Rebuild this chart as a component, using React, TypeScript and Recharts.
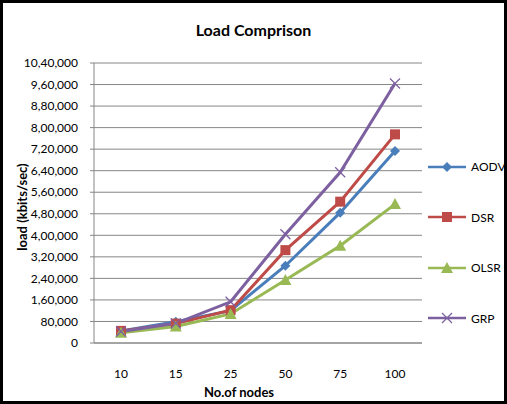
import React from 'react';
import { LineChart, Line, XAxis, YAxis, CartesianGrid } from 'recharts';

const NODES = ['10', '15', '25', '50', '75', '100'];
const AODV = [45000, 79000, 120000, 287000, 484000, 713000];
const DSR = [45000, 72000, 122000, 345000, 525000, 775000];
const OLSR = [38000, 61000, 108000, 234000, 361000, 516000];
const GRP = [43000, 73000, 153000, 404000, 634000, 964000];
const Y_TICKS = [0, 80000, 160000, 240000, 320000, 400000, 480000, 560000, 640000, 720000, 800000, 880000, 960000, 1040000];

const SERIES = [
  { key: 'AODV', color: '#4a7ebb', shape: 'diamond' },
  { key: 'DSR', color: '#be4b48', shape: 'square' },
  { key: 'OLSR', color: '#98b954', shape: 'triangle' },
  { key: 'GRP', color: '#7d60a0', shape: 'cross' },
];

const data = NODES.map((n, i) => ({
  name: n,
  AODV: AODV[i],
  DSR: DSR[i],
  OLSR: OLSR[i],
  GRP: GRP[i],
}));

const FONT = 'Lato, "Open Sans", sans-serif';

// Indian digit grouping: 10,40,000
const formatIN = (v: number) => {
  const s = String(Math.round(v));
  if (s.length <= 3) return s;
  const last3 = s.slice(-3);
  const rest = s.slice(0, -3).replace(/\B(?=(\d{2})+(?!\d))/g, ',');
  return rest + ',' + last3;
};

const Marker = ({ cx, cy, shape, color }: any) => {
  if (cx == null || cy == null) return null;
  if (shape === 'diamond') {
    const r = 5;
    return <polygon points={`${cx},${cy - r} ${cx + r},${cy} ${cx},${cy + r} ${cx - r},${cy}`} fill={color} />;
  }
  if (shape === 'square') {
    return <rect x={cx - 5} y={cy - 5} width={10} height={10} fill={color} />;
  }
  if (shape === 'triangle') {
    return <polygon points={`${cx},${cy - 6} ${cx + 6},${cy + 5} ${cx - 6},${cy + 5}`} fill={color} />;
  }
  return (
    <g stroke={color} strokeWidth={1.3}>
      <line x1={cx - 5} y1={cy - 5} x2={cx + 5} y2={cy + 5} />
      <line x1={cx - 5} y1={cy + 5} x2={cx + 5} y2={cy - 5} />
    </g>
  );
};

const LegendBox = () => (
  <div style={{ position: 'absolute', left: 424, top: 156, width: 80 }}>
    {SERIES.map((s, i) => (
      <div
        key={s.key}
        style={{ position: 'absolute', left: 0, top: i * 50.5, display: 'flex', alignItems: 'center', fontFamily: FONT, fontSize: 12 }}
      >
        <svg width={40} height={14}>
          <line x1={1} y1={7} x2={39} y2={7} stroke={s.color} strokeWidth={2.5} />
          <Marker cx={20} cy={7} shape={s.shape} color={s.color} />
        </svg>
        <span style={{ marginLeft: 4, color: '#000' }}>{s.key}</span>
      </div>
    ))}
  </div>
);

export default function App() {
  return (
    <div
      style={{
        position: 'absolute',
        left: 0,
        top: 0,
        width: 507,
        height: 404,
        boxSizing: 'border-box',
        border: '3px solid #000',
        background: '#fff',
        fontFamily: FONT,
      }}
    >
      <div style={{ position: 'absolute', left: 0, top: 0, width: 501, textAlign: 'center', marginTop: 17, fontWeight: 700, fontSize: 16, color: '#000' }}>
        Load Comprison
      </div>
      <div style={{ position: 'absolute', left: -3, top: -3 }}>
        <LineChart width={507} height={404} data={data} margin={{ top: 63, right: 85, left: 8, bottom: 31 }}>
          <CartesianGrid vertical={false} stroke="#868686" strokeWidth={1} />
          <XAxis
            dataKey="name"
            stroke="#868686"
            tickLine={false}
            padding={{ left: 27, right: 27 }}
            tick={{ fill: '#000', fontSize: 12, fontFamily: FONT }}
            tickMargin={20}
            height={30}
          />
          <YAxis
            ticks={Y_TICKS}
            domain={[0, 1040000]}
            tickFormatter={formatIN}
            stroke="#868686"
            tickSize={4}
            tickMargin={12}
            width={86}
            interval={0}
            tick={{ fill: '#000', fontSize: 12, fontFamily: FONT }}
          />
          {SERIES.map((s) => (
            <Line
              key={s.key}
              dataKey={s.key}
              type="linear"
              stroke={s.color}
              strokeWidth={3}
              dot={(p: any) => <Marker key={`${s.key}-${p.index}`} cx={p.cx} cy={p.cy} shape={s.shape} color={s.color} />}
              activeDot={false}
              isAnimationActive={false}
            />
          ))}
        </LineChart>
      </div>
      <LegendBox />
      <div
        style={{
          position: 'absolute',
          left: 22 - 3 - 60,
          top: 207 - 3 - 10,
          width: 120,
          height: 20,
          textAlign: 'center',
          transform: 'rotate(-90deg)',
          fontWeight: 700,
          fontSize: 13,
          lineHeight: '20px',
          color: '#000',
        }}
      >
        load (kbits/sec)
      </div>
      <div style={{ position: 'absolute', left: 239 - 3 - 60, top: 384 - 3, width: 120, textAlign: 'center', fontWeight: 700, fontSize: 13, color: '#000' }}>
        No.of nodes
      </div>
    </div>
  );
}
